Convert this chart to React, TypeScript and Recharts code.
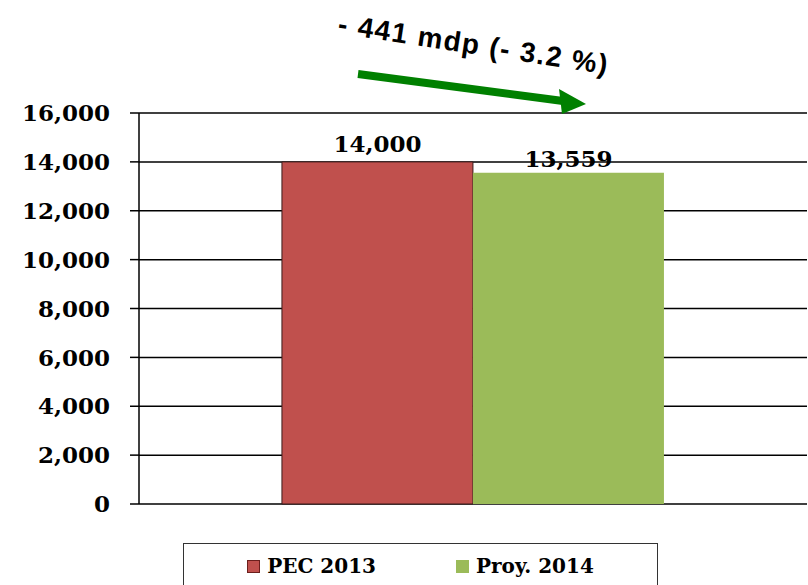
import React from 'react';
import { BarChart, Bar, XAxis, YAxis, CartesianGrid, LabelList } from 'recharts';

const categories = ['Gasto'];
const pec2013 = [14000];
const proy2014 = [13559];
const yTicks = [0, 2000, 4000, 6000, 8000, 10000, 12000, 14000, 16000];
const seriesNames = ['PEC 2013', 'Proy. 2014'];

const RED = '#C0504D';
const GREEN = '#9BBB59';
const SERIF = '"DejaVu Serif", "Liberation Serif", serif';

const data = categories.map((c, i) => ({ name: c, pec: pec2013[i], proy: proy2014[i] }));

const fmt = (v: number) => v.toLocaleString('en-US');

const LegendBox = () => (
  <div
    style={{
      position: 'absolute',
      left: 183,
      top: 543,
      width: 475,
      height: 46,
      border: '1px solid #333',
      boxSizing: 'border-box',
      display: 'flex',
      alignItems: 'center',
      justifyContent: 'center',
      gap: 80,
      fontFamily: SERIF,
      fontWeight: 'bold',
      fontSize: 20,
      color: '#000',
      background: '#fff',
    }}
  >
    {[RED, GREEN].map((c, i) => (
      <span key={i} style={{ display: 'flex', alignItems: 'center' }}>
        <span
          style={{
            width: 13,
            height: 13,
            background: c,
            border: i === 0 ? '1px solid #6b1f1d' : 'none',
            boxSizing: 'border-box',
            marginRight: 7,
            display: 'inline-block',
          }}
        />
        {seriesNames[i]}
      </span>
    ))}
  </div>
);

export default function App() {
  return (
    <div style={{ position: 'absolute', left: 0, top: 0, width: 808, height: 585, background: '#fff', overflow: 'hidden' }}>
      <BarChart
        width={808}
        height={585}
        data={data}
        margin={{ top: 113, right: 1, bottom: 81, left: 0 }}
        barGap={0}
        barCategoryGap="21.4%"
      >
        <CartesianGrid vertical={false} stroke="#000" strokeWidth={1.5} />
        <XAxis dataKey="name" tick={false} axisLine={false} tickLine={false} height={0} />
        <YAxis
          width={139}
          domain={[0, 16000]}
          ticks={yTicks}
          interval={0}
          tickFormatter={fmt}
          axisLine={{ stroke: '#000', strokeWidth: 1.5 }}
          tickLine={{ stroke: '#000', strokeWidth: 1.5 }}
          tickSize={9}
          tickMargin={20}
          tick={{ fill: '#000', fontFamily: SERIF, fontWeight: 'bold', fontSize: 23 }}
        />
        <Bar dataKey="pec" name={seriesNames[0]} fill={RED} stroke="#3a1a1a" strokeWidth={1} isAnimationActive={false}>
          <LabelList dataKey="pec" position="top" offset={10} formatter={fmt} fill="#000" fontFamily={SERIF} fontWeight="bold" fontSize={23} />
        </Bar>
        <Bar dataKey="proy" name={seriesNames[1]} fill={GREEN} isAnimationActive={false}>
          <LabelList dataKey="proy" position="top" offset={6} formatter={fmt} fill="#000" fontFamily={SERIF} fontWeight="bold" fontSize={23} />
        </Bar>
      </BarChart>
      <LegendBox />
      <svg width={808} height={585} style={{ position: 'absolute', left: 0, top: 0, pointerEvents: 'none' }}>
        <text
          x={337}
          y={33}
          transform="rotate(8.7 337 33)"
          fontFamily='"Liberation Sans", Arial, sans-serif'
          fontWeight="bold"
          fontSize={28}
          fill="#000"
          textLength={272}
          lengthAdjust="spacing"
        >
          - 441 mdp (- 3.2 %)
        </text>
        <line x1={358} y1={74} x2={563} y2={101} stroke="#008000" strokeWidth={8} />
        <polygon points="586,104 559,89 562,114" fill="#008000" />
      </svg>
    </div>
  );
}
